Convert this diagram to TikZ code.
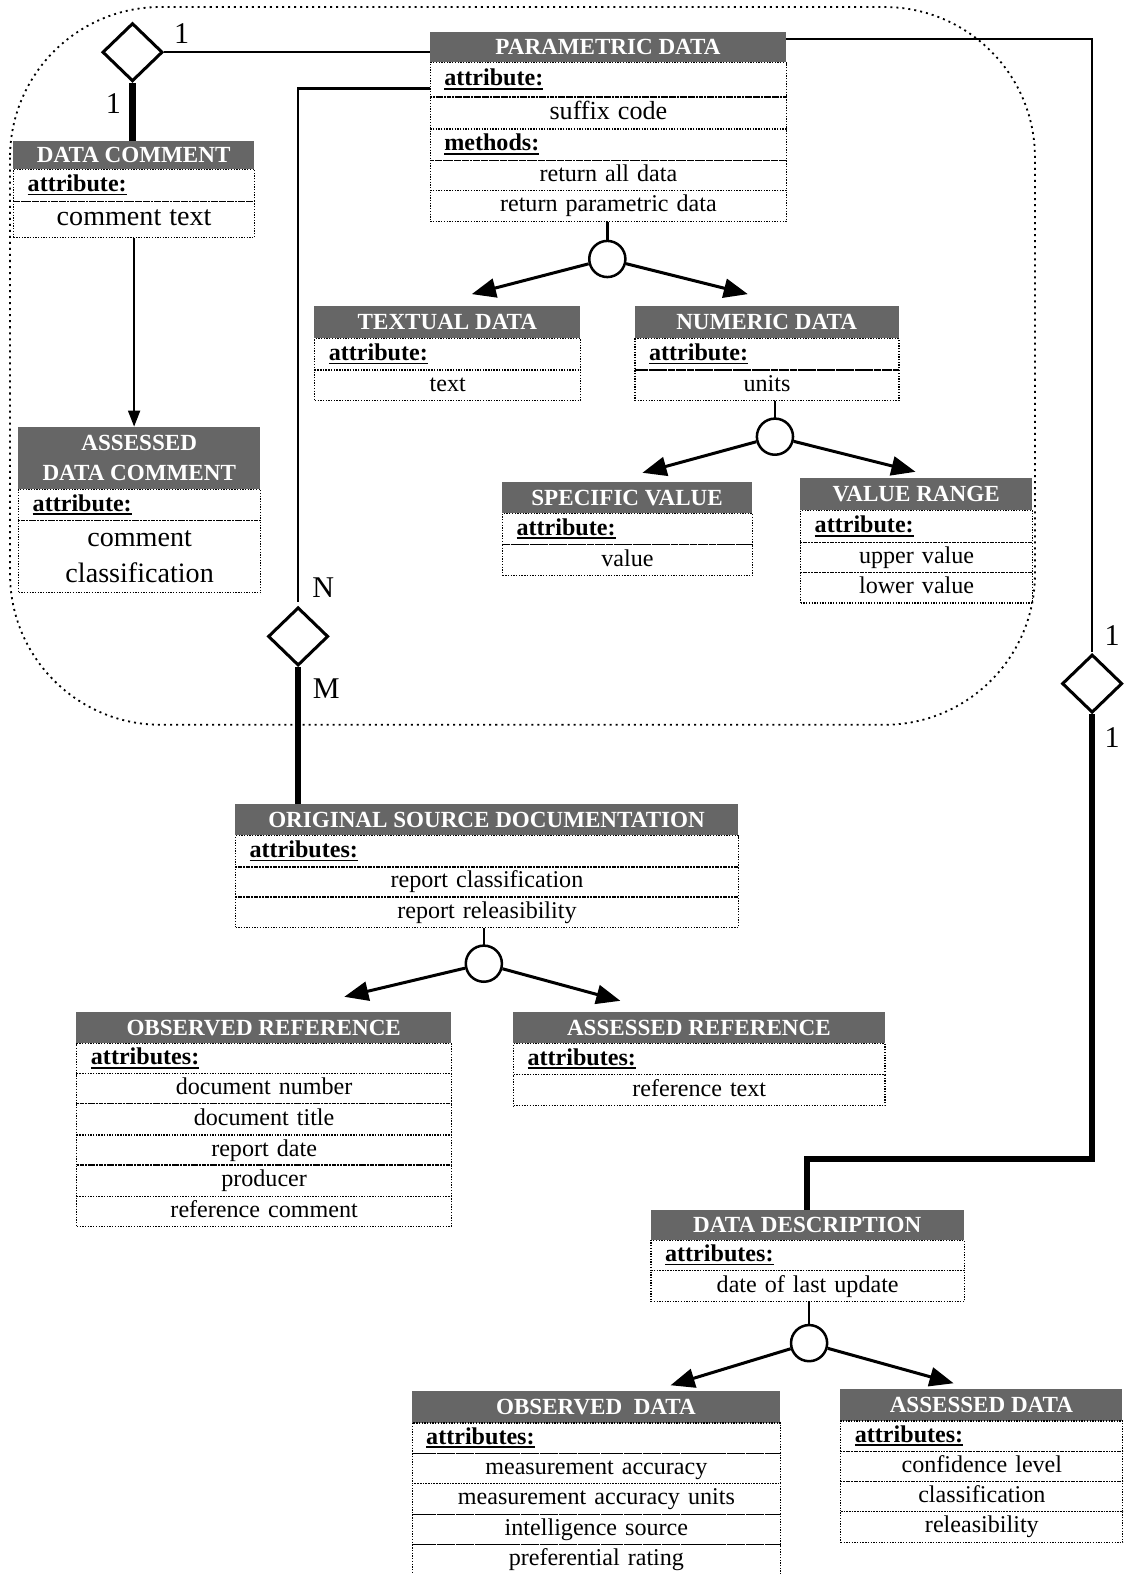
\documentclass[tikz,border=0pt]{standalone}
\usepackage{fontspec}
\setmainfont{Liberation Serif}
\usetikzlibrary{arrows.meta,shapes.geometric}
\newcommand\hd[1]{\leavevmode\setbox0=\hbox{\bfseries #1}\rlap{\rule[-4pt]{\wd0}{1.8pt}}\box0}
\tikzset{
 ttl/.style={fill=black!60, text=white, font=\bfseries\fontsize{23}{29}\selectfont, inner sep=0pt, align=center},
 rowbase/.style={draw, line width=1.2pt, dash pattern=on 1.3pt off 1.4pt, inner xsep=14pt, inner ysep=0pt, font=\fontsize{24}{28}\selectfont},
 rowa/.style={rowbase, align=left, text height=17pt, text depth=5pt},
 rowv/.style={rowbase, align=center, text height=17pt, text depth=5pt},
 roww/.style={rowbase, align=center, font=\fontsize{28}{35}\selectfont},
 conn/.style={line width=2.5pt},
 thk/.style={line width=6pt},
 arr/.style={line width=3pt, -{Triangle[length=24pt,width=19pt]}},
 arrsmall/.style={line width=1.8pt, -{Triangle[length=16pt,width=12pt]}},
 rel/.style={diamond, draw, line width=3pt, fill=white, minimum width=60pt, minimum height=58pt, inner sep=0pt},
 gen/.style={circle, draw, line width=2.5pt, fill=white, minimum size=36pt, inner sep=0pt},
 lbl/.style={font=\fontsize{30}{32}\selectfont, inner sep=0pt},
}
% #1 name, #2 x, #3 y, #4 width, #5 title height, #6 title, #7 rows type/height/text
\newcommand\umlbox[7]{%
  \node[ttl, anchor=north west, minimum width=#4pt, minimum height=#5pt] (#1) at (#2,#3) {#6};
  \pgfmathsetmacro\tw{#4-28}%
  \pgfmathsetmacro\tmpy{#3+#5}\global\let\cury\tmpy
  \foreach[count=\i] \k/\h/\t in {#7}{%
    \node[row\k, anchor=north west, minimum width=#4pt, minimum height=\h pt, text width=\tw pt] (#1-\i) at (#2,\cury) {\t};
    \pgfmathsetmacro\ny{\cury+\h}\global\let\cury\ny
  }%
}
\begin{document}
\begin{tikzpicture}[x=1pt,y=-1pt]
\useasboundingbox (0,0) rectangle (1119,1568);
\draw[line width=1.8pt, dash pattern=on 2pt off 4pt, rounded corners=150pt] (10,7) rectangle (1031,722);

\umlbox{pd}{428}{32}{355}{30}{PARAMETRIC DATA}{a/34/\hd{attribute:}, v/32/{\fontsize{26}{30}\selectfont suffix code}, a/31/\hd{methods:}, v/30/return all data, v/31/return parametric data}
\umlbox{dc}{13}{140}{240}{28}{DATA COMMENT}{a/32/\hd{attribute:}, v/36/{\fontsize{28}{32}\selectfont comment text}}
\umlbox{adc}{18}{425}{241}{62}{ASSESSED\\DATA COMMENT}{a/31/\hd{attribute:}, w/72/comment\\classification}
\umlbox{td}{313}{305}{265}{32}{TEXTUAL DATA}{a/31/\hd{attribute:}, v/30/text}
\umlbox{nd}{632}{305}{263}{32}{NUMERIC DATA}{a/31/\hd{attribute:}, v/30/units}
\umlbox{sv}{500}{480}{249}{31}{SPECIFIC VALUE}{a/31/\hd{attribute:}, v/31/value}
\umlbox{vr}{797}{476}{231}{32}{VALUE RANGE}{a/32/\hd{attribute:}, v/30/upper value, v/30/lower value}
\umlbox{osd}{234}{801}{501}{31}{ORIGINAL SOURCE DOCUMENTATION}{a/31/\hd{attributes:}, v/30/report classification, v/30/report releasibility}
\umlbox{orf}{76}{1008}{373}{31}{OBSERVED REFERENCE}{a/30/\hd{attributes:}, v/30/document number, v/31/document title, v/30/report date, v/31/producer, v/30/reference comment}
\umlbox{arf}{511}{1008}{370}{31}{ASSESSED REFERENCE}{a/31/\hd{attributes:}, v/31/reference text}
\umlbox{dd}{648}{1205}{312}{30}{DATA DESCRIPTION}{a/30/\hd{attributes:}, v/31/date of last update}
\umlbox{od}{410}{1385}{367}{32}{OBSERVED\enspace DATA}{a/30/\hd{attributes:}, v/30/measurement accuracy, v/31/measurement accuracy units, v/30/intelligence source, v/30/preferential rating}
\umlbox{ad}{837}{1383}{281}{32}{ASSESSED DATA}{a/30/\hd{attributes:}, v/30/confidence level, v/30/classification, v/31/releasibility}

\coordinate (k1) at (0,88);
\coordinate (k2) at (0,39);
\coordinate (k3) at (0,1155);
\coordinate (t1) at (470,293);
\coordinate (t2) at (745,293);
\coordinate (t3) at (640,471);
\coordinate (t4) at (912,470);
\coordinate (t5) at (343,993);
\coordinate (t6) at (618,997);
\coordinate (t7) at (668,1380);
\coordinate (t8) at (950,1378);

\draw[conn] (pd.west |- k1) -| (297,600);
\draw[conn] (pd.east |- k2) -| (1088,650);
\node[rel] (d1) at (132,52) {};
\node[rel] (d2) at (297,634) {};
\node[rel] (d3) at (1088,681) {};

\draw[conn] (d1.east) -- (d1.east -| pd.west);
\draw[thk] (d1.south) -- (d1.south |- dc.north);
\draw[thk] (d2.south) -- (d2.south |- osd.north);
\draw[thk] (d3.south) |- (dd.north |- k3) -- (dd.north);
\draw[arrsmall] (dc-2.south) -- (dc-2.south |- adc.north);

\draw[conn] (pd-5.south -| 605,0) -- (605,240);
\draw[conn] (nd-2.south -| 772,0) -- (772,417);
\draw[conn] (osd-3.south -| 482,0) -- (482,942);
\draw[conn] (dd-2.south -| 806,0) -- (806,1320);
\node[gen] (g1) at (605,258) {};
\node[gen] (g2) at (772,435) {};
\node[gen] (g3) at (482,960) {};
\node[gen] (g4) at (806,1338) {};
\draw[arr] (g1) -- (t1);
\draw[arr] (g1) -- (t2);
\draw[arr] (g2) -- (t3);
\draw[arr] (g2) -- (t4);
\draw[arr] (g3) -- (t5);
\draw[arr] (g3) -- (t6);
\draw[arr] (g4) -- (t7);
\draw[arr] (g4) -- (t8);

\node[lbl] (l1) at (181,33) {1};
\node[lbl] (l2) at (113,103) {1};
\node[lbl] (l3) at (322,585) {N};
\node[lbl] (l4) at (325,686) {M};
\node[lbl] (l5) at (1108,633) {1};
\node[lbl] (l6) at (1108,735) {1};
\end{tikzpicture}
\end{document}
